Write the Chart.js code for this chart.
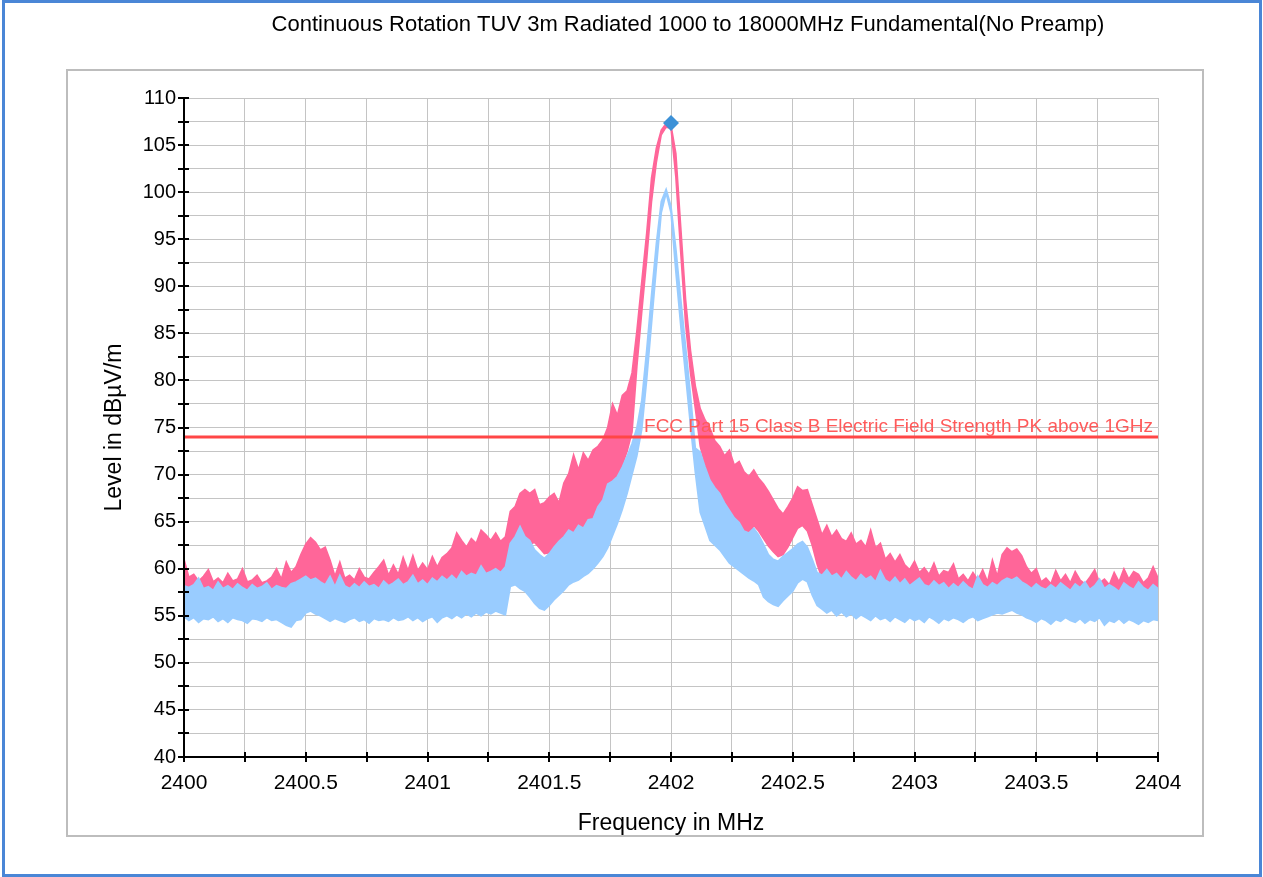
<!DOCTYPE html>
<html>
<head>
<meta charset="utf-8">
<title>Continuous Rotation TUV 3m Radiated</title>
<script src="https://cdn.jsdelivr.net/npm/chart.js@4.4.1/dist/chart.umd.min.js"></script>
<style>
  html, body { margin: 0; padding: 0; background: #fff; }
  #frame { position: relative; width: 1263px; height: 877px; overflow: hidden; }
  #outer { position: absolute; left: 2px; top: 0; width: 1260px; height: 877px; box-sizing: border-box; border: 3px solid #4a86d6; }
  #inner { position: absolute; left: 66px; top: 69px; width: 1138px; height: 768px; box-sizing: border-box; border: 2px solid #bdbdbd; }
  #chart { position: absolute; left: 0; top: 0; }
</style>
</head>
<body>
<div id="frame">
  <div id="outer"></div>
  <div id="inner"></div>
  <canvas id="chart" width="1263" height="877"></canvas>
</div>
<script>
// sweep: 2400 .. 2404 MHz, 201 points
const freqStart = 2400;
const freqStep = 0.02;

// pink trace (peak), upper and lower edge of the noise band, dBuV/m
const peakUpper = [
  61.0, 59.1, 59.4, 58.7, 59.2, 59.9, 58.6, 59.0, 58.5, 59.5,
  58.7, 58.9, 60.0, 58.6, 58.8, 59.3, 58.5, 58.7, 59.1, 60.0,
  58.9, 60.7, 59.6, 60.2, 61.5, 62.6, 63.3, 62.8, 62.0, 62.3,
  60.9, 59.2, 60.7, 59.0, 59.3, 58.8, 60.0, 59.1, 58.9, 59.6,
  60.2, 60.9, 59.3, 60.4, 59.4, 61.2, 59.8, 61.4, 59.8, 60.6,
  59.9, 61.3, 60.2, 61.2, 61.6, 62.2, 63.8, 63.0, 62.3, 63.2,
  62.7, 64.1, 63.6, 63.0, 63.8, 62.9, 63.4, 66.1, 66.6, 68.0,
  68.4, 68.0, 68.4, 66.8, 67.0, 67.6, 68.0, 67.0, 69.1, 70.1,
  72.1, 70.5, 72.3, 71.5, 72.6, 73.0, 73.7, 75.0, 77.5, 76.3,
  78.4, 78.9, 80.8, 85.3, 90.5, 95.6, 101.5, 104.7, 106.6, 107.3,
  107.1, 104.1, 96.3, 88.6, 83.2, 79.4, 77.0, 75.8, 74.9, 73.6,
  73.0, 72.0, 72.6, 71.0, 71.4, 70.3, 69.8, 70.5, 69.6, 69.0,
  68.2, 67.3, 66.4, 65.8, 66.6, 67.5, 68.7, 68.3, 68.4, 66.8,
  65.2, 63.6, 64.6, 63.4, 64.1, 63.2, 62.9, 63.8, 62.6, 63.0,
  62.3, 64.1, 62.2, 62.7, 61.0, 61.6, 60.7, 61.5, 60.4, 59.9,
  60.8, 59.6, 60.1, 59.4, 60.6, 59.2, 59.8, 59.6, 60.5, 58.9,
  59.4, 58.7, 59.6, 58.8, 59.9, 58.6, 60.9, 59.2, 61.5, 62.2,
  61.8, 62.1, 61.4, 60.2, 59.5, 60.0, 58.6, 59.0, 58.4, 59.8,
  58.7, 59.4, 58.5, 59.7, 58.8, 58.4, 59.1, 59.9, 58.5, 58.9,
  58.3, 59.6, 58.6, 60.0, 58.9, 59.7, 59.4, 58.5, 59.0, 60.2,
  59.0
];
const peakLower = [
  55.4, 55.1, 55.6, 55.0, 55.3, 55.2, 55.5, 55.0, 55.4, 55.1,
  55.6, 55.2, 55.3, 54.9, 55.4, 55.3, 55.1, 55.5, 55.2, 55.3,
  55.0, 55.2, 55.4, 55.6, 55.9, 56.3, 56.6, 56.2, 56.0, 55.6,
  55.2, 55.4, 55.3, 55.0, 55.3, 55.5, 55.1, 55.3, 55.0, 55.4,
  55.2, 55.3, 55.1, 55.5, 55.2, 55.3, 55.6, 55.3, 55.6, 55.2,
  55.5, 55.7, 55.1, 55.6, 55.8, 55.5, 55.9, 55.7, 56.0, 55.8,
  56.1, 55.9, 56.3, 56.1, 56.4, 56.2, 56.0, 62.5, 62.8, 63.6,
  63.0, 62.6, 62.8, 62.2, 61.6, 61.7, 62.3, 63.0, 63.4, 63.8,
  63.6, 64.4, 64.0, 64.9, 65.0, 66.2, 66.9, 68.5, 68.8, 69.3,
  71.0, 72.5, 74.5, 81.5, 87.3, 92.8, 99.0, 103.2, 106.1, 106.9,
  106.8, 101.6, 93.6, 86.0, 80.8, 77.0, 73.0, 71.0, 69.2, 68.2,
  67.6, 66.6, 65.8, 65.0, 64.5, 63.7, 63.5, 64.6, 64.0, 63.2,
  62.4, 61.8, 61.3, 61.5, 62.3, 63.3, 64.3, 64.6, 64.0, 62.5,
  60.5, 59.0, 56.1, 56.4, 55.8, 56.2, 55.7, 56.0, 55.5, 55.9,
  55.6, 55.3, 55.8, 55.4, 55.6, 55.2, 55.7, 55.4, 55.1, 55.6,
  55.3, 55.5, 55.1, 55.7, 55.4, 55.0, 55.5, 55.3, 55.6, 55.4,
  55.1, 55.5, 55.7, 55.3, 55.5, 55.7, 55.9, 56.1, 56.0, 56.2,
  56.4, 56.1, 55.9, 55.6, 55.4, 55.1, 55.5, 55.3, 54.9, 55.4,
  55.2, 55.6, 55.3, 55.1, 55.5, 55.0, 55.4, 55.2, 55.6, 54.8,
  55.3, 55.1, 55.5, 55.0, 55.4, 55.2, 54.9, 55.3, 55.1, 55.4,
  55.3
];

// light blue trace (average), upper and lower edge
const avgUpper = [
  58.2, 58.0, 58.3, 59.0, 57.9, 58.1, 57.7, 58.6, 57.9, 58.2,
  57.8, 58.4, 58.0, 57.7, 58.3, 57.9, 58.1, 58.5, 57.8, 58.2,
  58.0, 57.9, 58.4, 58.6, 58.9, 59.2, 58.8, 59.0, 58.6, 58.3,
  59.2, 58.1, 59.3, 58.2, 57.9, 58.4, 58.0, 58.6, 58.1, 58.3,
  57.9, 58.7, 58.2, 58.5, 58.9, 58.3, 58.6, 59.3, 58.4, 58.8,
  58.3, 59.0, 58.6, 59.2, 58.8, 59.3, 58.8, 59.7, 59.2, 59.5,
  59.3, 60.3, 59.5, 59.7, 60.0, 59.6, 60.2, 62.7, 63.4, 64.5,
  63.4, 63.0, 62.0, 61.5, 61.1, 61.6, 62.3, 62.9, 63.4, 64.1,
  63.8, 64.6, 64.3, 65.2, 65.3, 66.6, 67.3, 69.0, 69.3, 69.8,
  70.8, 72.0, 73.3, 75.0, 77.9, 83.2, 89.1, 94.6, 99.0, 100.3,
  98.5, 94.0, 88.7, 83.6, 78.5, 72.8, 72.4, 70.8, 69.4, 68.6,
  68.0, 67.0, 66.2, 65.4, 64.9, 64.0, 63.8, 64.3, 63.6, 62.6,
  61.5, 61.0, 60.8, 61.3, 61.7, 62.1, 62.6, 62.9, 62.3, 61.0,
  59.6, 59.3, 59.9, 59.2, 59.5, 58.9, 59.7, 59.1, 58.7, 59.4,
  58.9, 59.2, 58.6, 59.8, 58.8, 58.5, 59.1, 58.4, 58.9, 58.2,
  58.6, 59.0, 58.3, 58.1, 58.7, 58.2, 58.5, 57.9, 58.4, 58.0,
  58.6, 58.1, 57.8, 59.2, 58.3, 58.0, 58.5, 58.2, 58.7, 59.0,
  58.8, 59.1, 58.6, 58.3, 57.9, 58.4, 58.0, 57.8, 58.3, 57.9,
  58.5, 58.1, 57.7, 58.4, 58.0, 58.6, 57.8, 58.2, 58.9, 57.9,
  58.3, 58.0, 57.6, 58.5, 58.1, 57.8, 58.6, 58.0, 57.7, 58.3,
  57.9
];
const avgLower = [
  54.9, 54.5, 54.8, 54.3, 54.7, 54.6, 54.9, 54.4, 54.7, 54.3,
  54.8, 54.6, 54.5, 54.2, 54.7, 54.6, 54.4, 54.8, 54.5, 54.6,
  54.3, 54.0, 53.8, 54.5, 54.6, 55.3, 55.5, 55.2, 55.0, 54.7,
  54.4, 54.7, 54.5, 54.3, 54.6, 54.8, 54.4, 54.6, 54.2, 54.7,
  54.5, 54.6, 54.4, 54.8, 54.5, 54.6, 54.9, 54.5, 54.8, 54.4,
  54.7, 54.9, 54.3, 54.8, 55.0, 54.7, 55.1, 54.8, 55.2, 54.9,
  55.3, 55.0, 55.4, 55.2, 55.5, 55.3, 55.1, 58.1, 58.3, 57.9,
  57.6, 57.0, 56.3, 55.8, 55.6, 56.1, 56.7, 57.2, 57.7, 58.3,
  58.6, 58.8, 59.2, 59.5, 60.0, 60.6, 61.3, 62.2, 63.5, 64.8,
  66.3, 68.0, 70.0, 72.0, 74.8, 80.0, 86.0, 92.0, 97.8, 99.9,
  97.8, 91.5, 85.8, 80.5, 75.2, 70.2, 66.0, 64.5, 63.0, 62.5,
  62.0, 61.3, 60.6, 60.2, 59.8, 59.4, 59.0, 58.7, 58.3, 57.0,
  56.5, 56.2, 56.0, 56.6, 57.1, 57.6, 58.5, 58.9, 58.6, 57.2,
  56.1, 55.7, 55.3, 55.6, 55.0, 55.4, 54.9, 55.2, 54.7, 55.1,
  54.8, 54.5, 55.0, 54.6, 54.8, 54.4, 54.9, 54.6, 54.3, 54.8,
  54.5, 54.7, 54.3, 54.9, 54.6, 54.2, 54.7, 54.5, 54.8, 54.6,
  54.3, 54.7, 54.9, 54.5, 54.7, 54.9, 55.1, 55.3, 55.2, 55.4,
  55.6, 55.3, 55.1, 54.8, 54.6, 54.3, 54.7, 54.5, 54.1, 54.6,
  54.4, 54.8, 54.5, 54.3, 54.7, 54.2, 54.6, 54.4, 54.8, 54.0,
  54.5, 54.3, 54.7, 54.2, 54.6, 54.4, 54.1, 54.5, 54.3, 54.6,
  54.5
];

// limit line and peak marker
const limitFreq = [2400, 2404];
const limitLevel = [74, 74];
const limitLabel = 'FCC Part 15 Class B Electric Field Strength PK above 1GHz';
const markerFreq = [2402.0];
const markerLevel = [107.35];

const chartTitle = 'Continuous Rotation TUV 3m Radiated 1000 to 18000MHz Fundamental(No Preamp)';
const xTitle = 'Frequency in MHz';
const yTitle = 'Level in dB\u00B5V/m';

const FONT = "'Liberation Sans', Arial, Helvetica, sans-serif";
const PINK = '#ff6699';
const BLUE = '#99ccff';
const LIMIT_RED = '#ff4646';

function toPoints(levels){
  return levels.map((v, i) => ({ x: +(freqStart + i * freqStep).toFixed(2), y: v }));
}
function pairPoints(xs, ys){
  return xs.map((x, i) => ({ x: x, y: ys[i] }));
}
function isMultiple(v, step){
  const q = v / step;
  return Math.abs(q - Math.round(q)) < 1e-6;
}

// axis lines, crossing tick marks, texts
const decorations = {
  id: 'decorations',
  afterDatasetsDraw(chart){
    const ctx = chart.ctx;
    const area = chart.chartArea;
    const xs = chart.scales.x, ys = chart.scales.y;
    ctx.save();

    // axis lines
    ctx.strokeStyle = '#000';
    ctx.lineWidth = 2;
    ctx.beginPath();
    ctx.moveTo(area.left, area.top);
    ctx.lineTo(area.left, area.bottom);
    ctx.lineTo(area.right, area.bottom);
    ctx.stroke();

    // ticks across the axes
    ctx.beginPath();
    ys.ticks.forEach(t => {
      const y = Math.round(ys.getPixelForValue(t.value));
      ctx.moveTo(area.left - 6, y);
      ctx.lineTo(area.left + 5, y);
    });
    xs.ticks.forEach(t => {
      const x = Math.round(xs.getPixelForValue(t.value));
      ctx.moveTo(x, area.bottom - 5);
      ctx.lineTo(x, area.bottom + 5);
    });
    ctx.stroke();

    // limit label
    const yLim = ys.getPixelForValue(limitLevel[0]);
    ctx.fillStyle = '#ff5a5a';
    ctx.font = '19px ' + FONT;
    ctx.textAlign = 'right';
    ctx.textBaseline = 'alphabetic';
    ctx.fillText(limitLabel, area.right - 5, yLim - 5);
    ctx.restore();
  },
  afterDraw(chart){
    const ctx = chart.ctx;
    const area = chart.chartArea;
    ctx.save();
    ctx.fillStyle = '#000';
    ctx.textAlign = 'center';
    ctx.textBaseline = 'middle';

    ctx.font = '22px ' + FONT;
    ctx.fillText(chartTitle, (area.left + area.right) / 2 + 17, area.top - 73);

    ctx.font = '23px ' + FONT;
    ctx.fillText(xTitle, (area.left + area.right) / 2, area.bottom + 67);

    ctx.translate(area.left - 69, (area.top + area.bottom) / 2);
    ctx.rotate(-Math.PI / 2);
    ctx.fillText(yTitle, 0, 0);
    ctx.restore();
  }
};

const ctx = document.getElementById('chart').getContext('2d');
new Chart(ctx, {
  type: 'line',
  data: {
    datasets: [
      { label: 'Average top', data: toPoints(avgUpper), borderColor: BLUE, backgroundColor: BLUE,
        fill: '+1', order: 2 },
      { label: 'Average bottom', data: toPoints(avgLower), borderColor: BLUE, backgroundColor: BLUE,
        fill: false, order: 2 },
      { label: 'Peak top', data: toPoints(peakUpper), borderColor: PINK, backgroundColor: PINK,
        fill: '+1', order: 3 },
      { label: 'Peak bottom', data: toPoints(peakLower), borderColor: PINK, backgroundColor: PINK,
        fill: false, order: 3 },
      { label: 'Limit', data: pairPoints(limitFreq, limitLevel), borderColor: LIMIT_RED,
        borderWidth: 3, fill: false, order: 1 },
      { type: 'scatter', label: 'Marker', data: pairPoints(markerFreq, markerLevel),
        pointStyle: 'rectRot', pointRadius: 8, backgroundColor: '#3d91d7', borderWidth: 0, order: 0 }
    ]
  },
  options: {
    responsive: false,
    animation: false,
    events: [],
    layout: { padding: { left: 67, top: 98, right: 105, bottom: 41 } },
    elements: {
      line: { borderWidth: 1.6, tension: 0 },
      point: { radius: 0 }
    },
    plugins: {
      legend: { display: false },
      title: { display: false },
      tooltip: { enabled: false }
    },
    scales: {
      x: {
        type: 'linear', min: 2400, max: 2404,
        afterFit(s){ s.height = 79; },
        border: { display: false },
        grid: { color: '#c4c4c4', lineWidth: 1, drawTicks: false },
        ticks: {
          stepSize: 0.25, autoSkip: false, maxRotation: 0, padding: 14,
          color: '#000', font: { family: FONT, size: 21 },
          callback: v => isMultiple(v, 0.5) ? String(v) : ''
        }
      },
      y: {
        type: 'linear', min: 40, max: 110,
        afterFit(s){ s.width = 117; },
        border: { display: false },
        grid: { color: '#c4c4c4', lineWidth: 1, drawTicks: false },
        ticks: {
          stepSize: 2.5, autoSkip: false, padding: 8,
          color: '#000', font: { family: FONT, size: 20 },
          callback: v => isMultiple(v, 5) ? String(v) : ''
        }
      }
    }
  },
  plugins: [decorations]
});
</script>
</body>
</html>
